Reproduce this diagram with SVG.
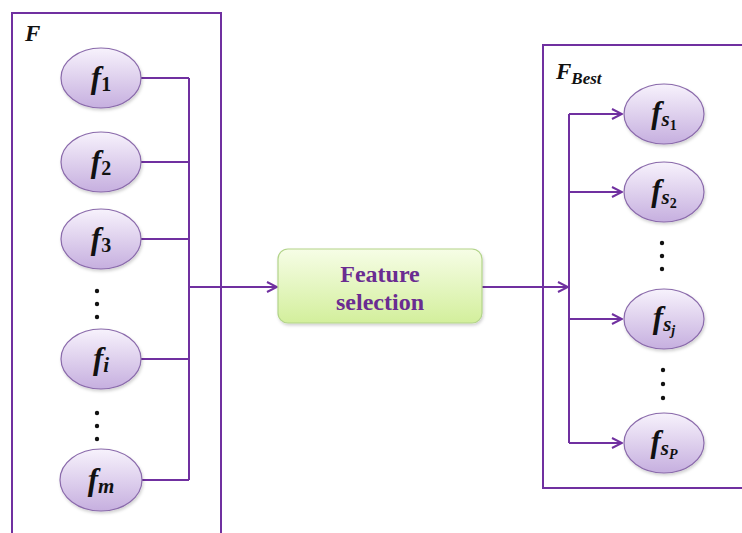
<svg xmlns="http://www.w3.org/2000/svg" width="742" height="533" viewBox="0 0 742 533">
<defs>
<linearGradient id="gEll" x1="0" y1="0" x2="0" y2="1">
<stop offset="0" stop-color="#f7f2fc"/>
<stop offset="1" stop-color="#c6afdf"/>
</linearGradient>
<linearGradient id="gBox" x1="0" y1="0" x2="0" y2="1">
<stop offset="0" stop-color="#f6fde6"/>
<stop offset="1" stop-color="#d3ef9c"/>
</linearGradient>
<filter id="sh" x="-20%" y="-20%" width="140%" height="150%">
<feDropShadow dx="1" dy="2" stdDeviation="1.5" flood-color="#000" flood-opacity="0.18"/>
</filter>
<marker id="arr" viewBox="0 0 12 12" markerWidth="12" markerHeight="12" refX="11" refY="6" orient="auto" markerUnits="userSpaceOnUse">
<path d="M1,1 L11,6 L1,11" fill="none" stroke="#7030a0" stroke-width="2"/>
</marker>
<style>
.frame{fill:none;stroke:#7030a0;stroke-width:2}
.ell{fill:url(#gEll);stroke:#8a6aab;stroke-width:1.2;filter:url(#sh)}
.lbl{font-family:"Liberation Serif","DejaVu Serif",serif;font-weight:bold;font-style:italic;font-size:31px;fill:#111;text-anchor:middle}
.sub{font-size:20px;font-style:normal}
.subi{font-size:21px;font-style:italic}
.ssub{font-size:14px;font-style:normal}
.ssubi{font-size:14px;font-style:italic}
.title{font-family:"Liberation Serif","DejaVu Serif",serif;font-weight:bold;font-style:italic;font-size:23px;fill:#111}
.con{fill:none;stroke:#7030a0;stroke-width:2}
.dot{fill:#111}
.box{fill:url(#gBox);stroke:#b3d48a;stroke-width:1.2;filter:url(#sh)}
.btxt{font-family:"Liberation Serif","DejaVu Serif",serif;font-weight:bold;font-size:24px;fill:#6a2c91;text-anchor:middle}
</style>
</defs>

<g id="frameF">
<rect class="frame" x="12" y="13" width="209" height="540"/>
<text class="title" x="25" y="41">F</text>
</g>
<g id="frameFBest">
<rect class="frame" x="543" y="45" width="220" height="443"/>
<text class="title" x="556" y="79">F<tspan font-size="17" dy="5">Best</tspan></text>
</g>

<g id="connectors">
<path class="con" d="M141,78 H189 M141,162 H189 M141,239 H189 M141,359 H189 M141,480 H189 M189,78 V480"/>
<path class="con" d="M189,287 H277" marker-end="url(#arr)"/>
<path class="con" d="M482,287 H568" marker-end="url(#arr)"/>
<path class="con" d="M569,114 V443"/>
<path class="con" d="M569,114 H622" marker-end="url(#arr)"/>
<path class="con" d="M569,192 H622" marker-end="url(#arr)"/>
<path class="con" d="M569,319 H622" marker-end="url(#arr)"/>
<path class="con" d="M569,443 H622" marker-end="url(#arr)"/>
</g>

<g id="f1"><ellipse class="ell" cx="101" cy="78" rx="40" ry="30"/><text class="lbl" x="101" y="88">f<tspan class="sub" dy="3">1</tspan></text></g>
<g id="f2"><ellipse class="ell" cx="101" cy="162" rx="40" ry="30"/><text class="lbl" x="101" y="172">f<tspan class="sub" dy="3">2</tspan></text></g>
<g id="f3"><ellipse class="ell" cx="101" cy="239" rx="40" ry="30"/><text class="lbl" x="101" y="249">f<tspan class="sub" dy="3">3</tspan></text></g>
<g id="dotsL1"><circle class="dot" cx="97" cy="291" r="2.2"/><circle class="dot" cx="97" cy="304" r="2.2"/><circle class="dot" cx="97" cy="317" r="2.2"/></g>
<g id="fi"><ellipse class="ell" cx="101" cy="359" rx="40" ry="30"/><text class="lbl" x="101" y="369">f<tspan class="subi" dy="3">i</tspan></text></g>
<g id="dotsL2"><circle class="dot" cx="97" cy="413" r="2.2"/><circle class="dot" cx="97" cy="426" r="2.2"/><circle class="dot" cx="97" cy="439" r="2.2"/></g>
<g id="fm"><ellipse class="ell" cx="101" cy="480" rx="41" ry="31"/><text class="lbl" x="101" y="490">f<tspan class="subi" dy="3">m</tspan></text></g>

<g id="featureSelection">
<rect class="box" x="278" y="249" width="204" height="74" rx="10"/>
<text class="btxt" x="380" y="282">Feature</text>
<text class="btxt" x="380" y="310">selection</text>
</g>

<g id="fs1"><ellipse class="ell" cx="664" cy="114" rx="40" ry="30"/><text class="lbl" x="664" y="123">f<tspan class="subi" dy="3">s</tspan><tspan class="ssub" dy="4">1</tspan></text></g>
<g id="fs2"><ellipse class="ell" cx="664" cy="192" rx="40" ry="30"/><text class="lbl" x="664" y="201">f<tspan class="subi" dy="3">s</tspan><tspan class="ssub" dy="4">2</tspan></text></g>
<g id="dotsR1"><circle class="dot" cx="662" cy="243" r="2.2"/><circle class="dot" cx="662" cy="256" r="2.2"/><circle class="dot" cx="662" cy="269" r="2.2"/></g>
<g id="fsj"><ellipse class="ell" cx="664" cy="319" rx="40" ry="30"/><text class="lbl" x="664" y="328">f<tspan class="subi" dy="3">s</tspan><tspan class="ssubi" dy="4">j</tspan></text></g>
<g id="dotsR2"><circle class="dot" cx="663" cy="370" r="2.2"/><circle class="dot" cx="663" cy="384" r="2.2"/><circle class="dot" cx="663" cy="398" r="2.2"/></g>
<g id="fsP"><ellipse class="ell" cx="664" cy="443" rx="40" ry="30"/><text class="lbl" x="664" y="452">f<tspan class="subi" dy="3">s</tspan><tspan class="ssubi" dy="4">P</tspan></text></g>
</svg>
